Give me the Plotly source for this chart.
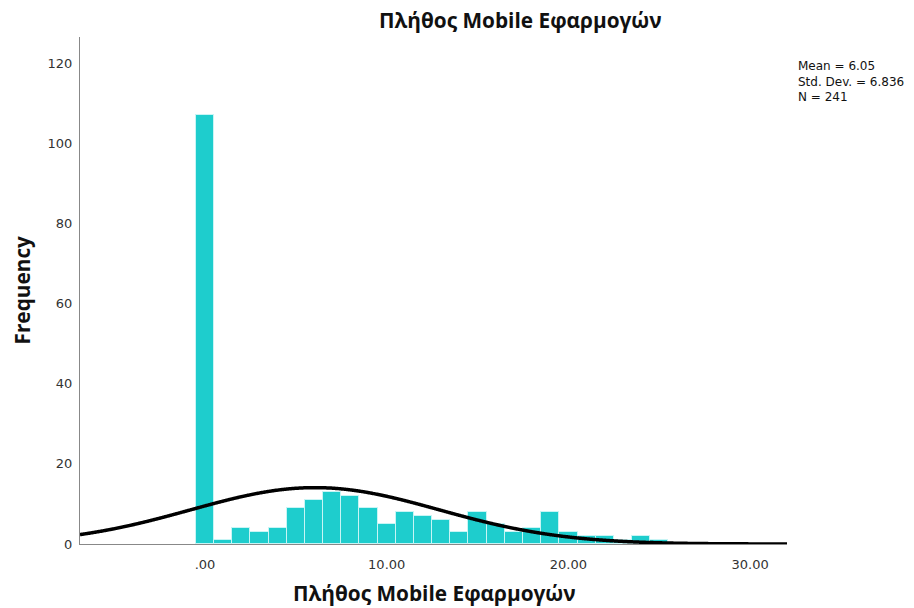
import numpy as np
import plotly.graph_objects as go

# Histogram of number of mobile apps (bins of width 1)
bin_centers = list(range(0, 26))
frequencies = [107, 1, 4, 3, 4, 9, 11, 13, 12, 9, 5, 8, 7, 6, 3, 8, 5, 3, 4, 8, 3, 2, 2, 1, 2, 1]

# Summary statistics
mean_value = 6.05
std_dev = 6.836
n_cases = 241
bin_width = 1.0

x_ticks = [0, 10, 20, 30]
x_tick_labels = [".00", "10.00", "20.00", "30.00"]
y_ticks = [0, 20, 40, 60, 80, 100, 120]

title_text = "Πλήθος Mobile Εφαρμογών"

x_min, x_max = -6.88, 32.03
y_max = 126.5

# Fitted normal curve scaled to counts
curve_x = np.linspace(x_min, x_max, 600)
curve_y = n_cases * bin_width / (std_dev * np.sqrt(2 * np.pi)) * np.exp(
    -0.5 * ((curve_x - mean_value) / std_dev) ** 2
)

fig = go.Figure()
fig.add_trace(go.Bar(
    x=bin_centers,
    y=frequencies,
    width=bin_width,
    marker=dict(color="rgb(30,205,205)",
                line=dict(color="rgba(200,245,245,1)", width=1)),
    hoverinfo="x+y",
))
fig.add_trace(go.Scatter(
    x=curve_x, y=curve_y, mode="lines",
    line=dict(color="black", width=3.5, simplify=False, shape="spline"),
    hoverinfo="skip",
))

tick_font = dict(family="DejaVu Sans", size=13, color="#333333")

fig.update_layout(
    width=914, height=608,
    margin=dict(l=80, r=127, t=37, b=64),
    plot_bgcolor="white", paper_bgcolor="white",
    showlegend=False,
    bargap=0,
    xaxis=dict(
        range=[x_min, x_max],
        tickvals=x_ticks, ticktext=x_tick_labels,
        tickfont=tick_font,
        showgrid=False, zeroline=False,
        showline=True, linecolor="#888888", linewidth=1,
        ticks="", ticklen=0, ticklabelstandoff=8,
    ),
    yaxis=dict(
        range=[0, y_max],
        tickvals=y_ticks,
        tickfont=tick_font,
        showgrid=False, zeroline=False,
        showline=True, linecolor="#888888", linewidth=1,
        ticks="", ticklen=0, ticklabelstandoff=4,
    ),
)

bold_font = dict(family="Open Sans", size=20.8, color="#111111")

# Chart title
fig.add_annotation(
    text="<b>" + title_text + "</b>", xref="paper", yref="paper",
    x=(520 - 80) / 707, y=1 + (37 - 20) / 507,
    xanchor="center", yanchor="middle", showarrow=False, font=bold_font,
)
# X axis title
fig.add_annotation(
    text="<b>" + title_text + "</b>", xref="paper", yref="paper",
    x=(434 - 80) / 707, y=-(593 - 544) / 507,
    xanchor="center", yanchor="middle", showarrow=False, font=bold_font,
)
# Y axis title
fig.add_annotation(
    text="<b>Frequency</b>", xref="paper", yref="paper",
    x=-(80 - 21) / 707, y=0.5, textangle=-90,
    xanchor="center", yanchor="middle", showarrow=False, font=bold_font,
)

# Statistics box
stats_lines = [
    f"Mean = {mean_value:.2f}",
    f"Std. Dev. = {std_dev:.3f}",
    f"N = {n_cases}",
]
fig.add_annotation(
    text="<br>".join(stats_lines), xref="paper", yref="paper",
    x=(796 - 80) / 707, y=1 - (81 - 37) / 507,
    xanchor="left", yanchor="middle", align="left", showarrow=False,
    font=dict(family="DejaVu Sans", size=12, color="#111111"),
)

fig.write_html("out.html")
